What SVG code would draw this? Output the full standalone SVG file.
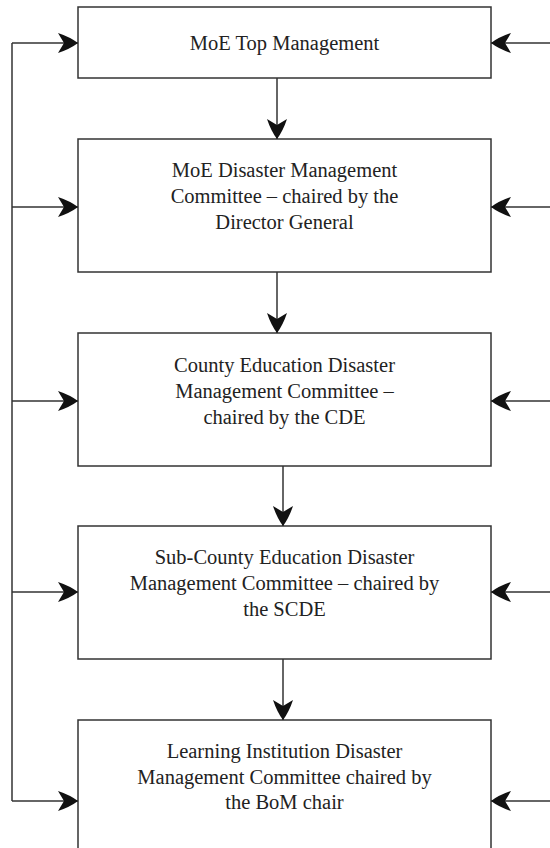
<svg xmlns="http://www.w3.org/2000/svg" width="550" height="848" viewBox="0 0 550 848">
<style>
.box{fill:#fff;stroke:#333;stroke-width:1.5}
.lbl{font-family:"Liberation Serif","Times New Roman",serif;font-size:20.5px;fill:#222;text-anchor:middle}
.con{fill:none;stroke:#333;stroke-width:1.5}
</style>
<defs>
<marker id="ah" viewBox="0 0 20 20" refX="20" refY="10" markerWidth="20" markerHeight="20" markerUnits="userSpaceOnUse" orient="auto">
<path d="M0,0 Q12,4 20,10 Q12,16 0,20 L6,10 Z" fill="#111"/>
</marker>
</defs>
<rect width="550" height="848" fill="#fff"/>
<g id="n1">
<rect class="box" x="78" y="7" width="413" height="71"/>
<text class="lbl" x="284.5" y="50">MoE Top Management</text>
</g>
<g id="n2">
<rect class="box" x="78" y="139" width="413" height="133"/>
<text class="lbl" x="284.5" y="177">MoE Disaster Management</text>
<text class="lbl" x="284.5" y="203">Committee – chaired by the</text>
<text class="lbl" x="284.5" y="229">Director General</text>
</g>
<g id="n3">
<rect class="box" x="78" y="333" width="413" height="133"/>
<text class="lbl" x="284.5" y="372">County Education Disaster</text>
<text class="lbl" x="284.5" y="398">Management Committee –</text>
<text class="lbl" x="284.5" y="424">chaired by the CDE</text>
</g>
<g id="n4">
<rect class="box" x="78" y="526" width="413" height="133"/>
<text class="lbl" x="284.5" y="564">Sub-County Education Disaster</text>
<text class="lbl" x="284.5" y="590">Management Committee – chaired by</text>
<text class="lbl" x="284.5" y="616">the SCDE</text>
</g>
<g id="n5">
<rect class="box" x="78" y="720" width="413" height="150"/>
<text class="lbl" x="284.5" y="758">Learning Institution Disaster</text>
<text class="lbl" x="284.5" y="784">Management Committee chaired by</text>
<text class="lbl" x="284.5" y="809">the BoM chair</text>
</g>
<g id="connectors">
<path class="con" d="M277,78 V139" marker-end="url(#ah)"/>
<path class="con" d="M277,272 V333" marker-end="url(#ah)"/>
<path class="con" d="M283,466 V526" marker-end="url(#ah)"/>
<path class="con" d="M283,659 V720" marker-end="url(#ah)"/>
<path class="con" d="M12,43 V801"/>
<path class="con" d="M12,43 H78" marker-end="url(#ah)"/>
<path class="con" d="M12,207 H78" marker-end="url(#ah)"/>
<path class="con" d="M12,401 H78" marker-end="url(#ah)"/>
<path class="con" d="M12,592 H78" marker-end="url(#ah)"/>
<path class="con" d="M12,801 H78" marker-end="url(#ah)"/>
<path class="con" d="M550,43 H491" marker-end="url(#ah)"/>
<path class="con" d="M550,207 H491" marker-end="url(#ah)"/>
<path class="con" d="M550,401 H491" marker-end="url(#ah)"/>
<path class="con" d="M550,592 H491" marker-end="url(#ah)"/>
<path class="con" d="M550,801 H491" marker-end="url(#ah)"/>
</g>
</svg>
